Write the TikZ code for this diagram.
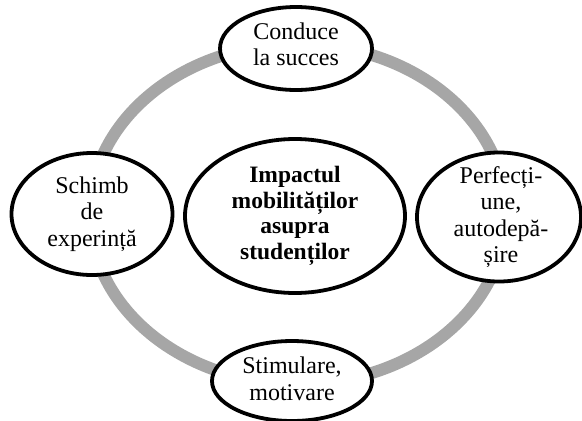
\documentclass[tikz,border=0pt]{standalone}
\usepackage{fontspec}
\setmainfont{Liberation Serif}
\usepackage{xcolor}
\usetikzlibrary{shapes.geometric}
\definecolor{ring}{HTML}{A6A6A6}
\definecolor{ink}{HTML}{000000}
\tikzset{
  ringline/.style={draw=ring, line width=12pt},
  bubble/.style={ellipse, draw=ink, fill=white, line width=3.8pt, inner sep=0pt},
  txt/.style={align=center, inner sep=0pt, font=\fontsize{24}{26.5}\selectfont},
  hubtxt/.style={txt, font=\fontsize{23.5}{25.5}\selectfont\bfseries},
}

\begin{document}
\begin{tikzpicture}[x=1pt,y=-1pt]
  \useasboundingbox (0,0) rectangle (582,421);
  \coordinate (O) at (298,214);

  \draw[ringline] (O) ellipse [x radius=208, y radius=170];

  % the five ellipses
  \node[bubble, minimum width=220, minimum height=154] (impact) at (295,216) {};
  \node[bubble, minimum width=152, minimum height=83] (succes) at (296,48.5) {};
  \node[bubble, minimum width=161, minimum height=122] (schimb) at (92,214) {};
  \node[bubble, minimum width=164, minimum height=129] (perfect) at (499,217) {};
  \node[bubble, minimum width=160, minimum height=80] (stimul) at (292,381) {};

  % their texts
  \node[hubtxt] (impactT) at (impact) {Impactul\\mobilităților\\asupra\\studenților};
  \node[txt] (succesT) at ([yshift=4]succes) {Conduce\\la succes};
  \node[txt] (schimbT) at (schimb) {Schimb\\de\\experință};
  \node[txt] (perfectT) at ([xshift=2]perfect) {Perfecți-\\une,\\autodepă-\\șire};
  \node[txt] (stimulT) at ([yshift=2]stimul) {Stimulare,\\motivare};
\end{tikzpicture}
\end{document}
